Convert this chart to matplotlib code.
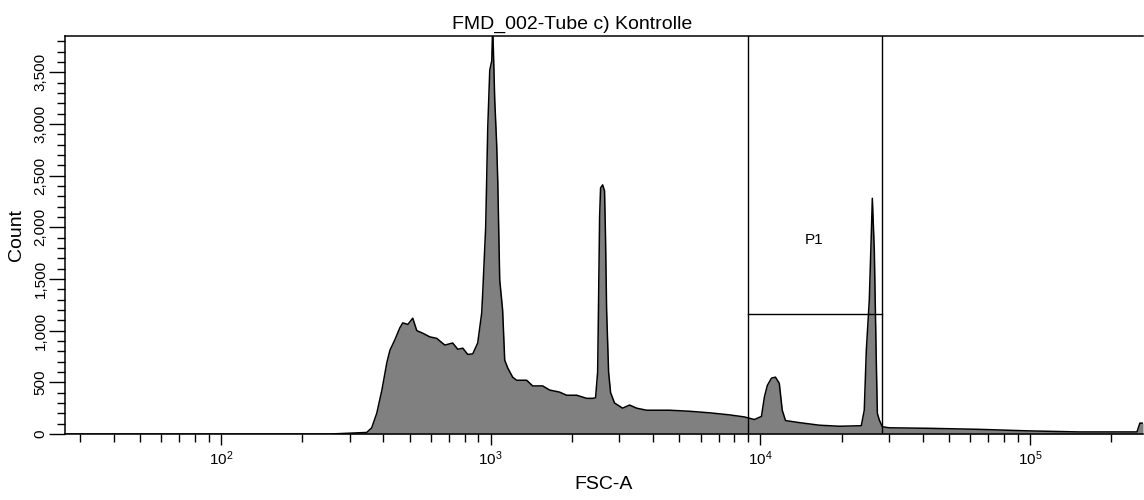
""" <plot.py>

    FSC-A histogram of FMD_002, tube c) Kontrolle, with gate P1."""

import numpy as np
import matplotlib
matplotlib.use("Agg")
from matplotlib import pyplot as plt
from matplotlib import ticker

# Data
# ---------------------------

fsc_a: list[float] = [
    26, 254, 313, 347, 362, 378, 395, 412, 423, 441, 460, 472, 493, 514, 532,
    560, 594, 631, 676, 723, 755, 788, 822, 858, 895, 926, 934, 958, 966, 975,
    992, 1009, 1017, 1026, 1035, 1052, 1062, 1080, 1107, 1127, 1156, 1206,
    1248, 1359, 1431, 1559, 1654, 1801, 1911, 2083, 2268, 2387, 2448, 2492,
    2512, 2534, 2555, 2600, 2643, 2665, 2690, 2736, 2783, 2830, 2878, 3083,
    3273, 3474, 3784, 4602, 5458, 6473, 7678, 8724, 9500, 10090, 10350, 10610,
    10990, 11370, 11750, 12050, 12390, 13940, 16550, 19620, 23660, 24270,
    24700, 25330, 25780, 26000, 26440, 26890, 27140, 27600, 28320, 30060,
    42270, 64740, 99100, 151700, 249000, 255300, 262144,
]
count: list[float] = [
    0, 0, 10, 15, 60, 200, 425, 690, 810, 910, 1025, 1075, 1060, 1120, 1000,
    975, 940, 925, 860, 880, 820, 830, 770, 775, 880, 1170, 1360, 2000, 2450,
    2960, 3520, 3610, 3950, 3600, 3230, 2810, 2450, 1490, 1200, 715, 640, 550,
    520, 520, 465, 465, 425, 405, 375, 375, 345, 345, 350, 600,
    1300, 2100, 2380, 2410, 2350, 1900, 1200, 600, 400, 350, 300, 250,
    280, 250, 230, 230, 220, 205, 185, 165, 140, 170, 360, 470,
    540, 550, 490, 230, 130, 110, 85, 75, 80, 230,
    810, 1290, 1940, 2280, 1780, 715, 200, 135, 70, 60,
    55, 45, 30, 20, 20, 105, 105,
]

# gate P1: two vertical limits and the horizontal split
gate_low: float = 9030
gate_high: float = 28320
gate_split: float = 1160
gate_label: str = "P1"
gate_label_pos: tuple[float, float] = (15850, 1875)

title: str = "FMD_002-Tube c) Kontrolle"
x_label: str = "FSC-A"
y_label: str = "Count"

# Plotting the values
# -------------------

plt.rcParams["font.family"] = ["Liberation Sans", "DejaVu Sans"]
plt.rcParams["mathtext.fontset"] = "custom"
plt.rcParams["mathtext.rm"] = "Liberation Sans"
plt.rcParams["mathtext.it"] = "Liberation Sans"

fig = plt.figure(figsize=(11.44, 5.0), dpi=100)
ax = fig.add_axes([65 / 1144, 1 - 434 / 500, 1078 / 1144, 398 / 500])

ax.fill_between(fsc_a, count, 0, color="#808080", linewidth=0)
ax.plot(fsc_a, count, color="black", linewidth=1.1)

# gate lines
for x_gate in (gate_low, gate_high):
    ax.axvline(x_gate, color="black", linewidth=1.0)
ax.plot([gate_low, gate_high], [gate_split, gate_split], color="black", linewidth=1.0)
ax.text(gate_label_pos[0], gate_label_pos[1], gate_label, ha="center", va="center", fontsize=11)

# Stylizing
# ---------

ax.set_xscale("log")
ax.set_xlim(26.4, 262144)
ax.set_ylim(0, 3850)

ax.xaxis.set_major_locator(ticker.LogLocator(base=10, numticks=10))
ax.xaxis.set_minor_locator(ticker.LogLocator(base=10, subs=np.arange(2, 10), numticks=20))
ax.xaxis.set_minor_formatter(ticker.NullFormatter())
ax.yaxis.set_major_locator(ticker.MultipleLocator(500))
ax.yaxis.set_minor_locator(ticker.MultipleLocator(100))
ax.yaxis.set_major_formatter(ticker.FuncFormatter(lambda v, _: f"{v:,.0f}"))

ax.tick_params(axis="x", which="major", direction="out", length=8, width=1, labelsize=11, pad=3)
ax.tick_params(axis="x", which="minor", direction="out", length=5.5, width=1)
ax.tick_params(axis="y", which="major", direction="out", length=11.5, width=1, labelsize=11, pad=1)
ax.tick_params(axis="y", which="minor", direction="out", length=5.8, width=1)
for lbl in ax.get_yticklabels():
    lbl.set_rotation(90)
    lbl.set_va("center")

ax.spines["right"].set_visible(False)
for side in ("left", "top", "bottom"):
    ax.spines[side].set_linewidth(1.1)

ax.set_xlabel(x_label, fontsize=14, labelpad=6)
ax.set_ylabel(y_label, fontsize=14, labelpad=6)
fig.text(0.5, 1 - 24 / 500, title, ha="center", va="center", fontsize=14)

fig.savefig("out.png", dpi=100)
